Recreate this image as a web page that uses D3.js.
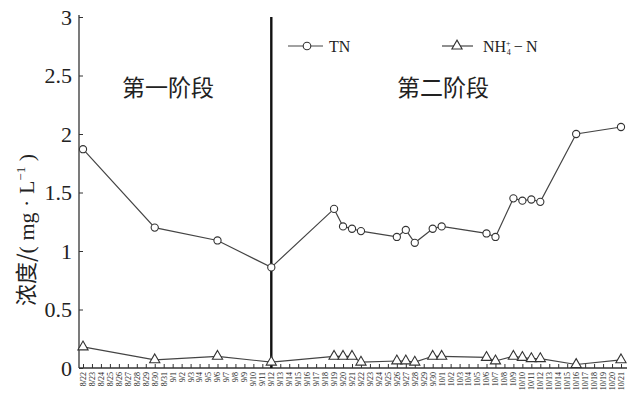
<!DOCTYPE html>
<html>
<head>
<meta charset="utf-8">
<script src="https://cdn.jsdelivr.net/npm/d3@7"></script>
<style>
  body { margin: 0; background: #fff; }
  svg text { font-family: "Liberation Serif", "DejaVu Serif", serif; fill: #222; }
</style>
</head>
<body>
<div id="chart"></div>
<script>
// all sampling days on the x axis
var days = ["8/22","8/23","8/24","8/25","8/26","8/27","8/28","8/29","8/30","8/31",
    "9/1","9/2","9/3","9/4","9/5","9/6","9/7","9/8","9/9","9/10","9/11","9/12",
    "9/13","9/14","9/15","9/16","9/17","9/18","9/19","9/20","9/21","9/22","9/23",
    "9/24","9/25","9/26","9/27","9/28","9/29","9/30","10/1","10/2","10/3","10/4",
    "10/5","10/6","10/7","10/8","10/9","10/10","10/11","10/12","10/13","10/14",
    "10/15","10/16","10/17","10/18","10/19","10/20","10/21"];

// days with measurements
var sampleDays = ["8/22","8/30","9/6","9/12","9/19","9/20","9/21","9/22","9/26","9/27",
    "9/28","9/30","10/1","10/6","10/7","10/9","10/10","10/11","10/12","10/16","10/21"];
var tnValues = [1.87,1.20,1.09,0.86,1.36,1.21,1.19,1.17,1.12,1.18,
    1.07,1.19,1.21,1.15,1.12,1.45,1.43,1.44,1.42,2.00,2.06];
var nh4Values = [0.18,0.07,0.10,0.05,0.10,0.10,0.10,0.05,0.06,0.06,
    0.05,0.10,0.10,0.09,0.06,0.10,0.09,0.08,0.08,0.03,0.07];

var yTicks = [0, 0.5, 1, 1.5, 2, 2.5, 3];
var stageSplit = "9/12";

var svgWidth = 627, svgHeight = 401;
var ink = "#333";

var svg = d3.select("#chart").append("svg")
    .attr("width", svgWidth)
    .attr("height", svgHeight);

var x = d3.scalePoint().domain(days).range([83, 621]);
var y = d3.scaleLinear().domain([0, 3]).range([368, 17]);

// y axis
var yAxis = d3.axisLeft(y)
    .tickValues(yTicks)
    .tickFormat(d3.format("~g"))
    .tickSizeInner(-4)
    .tickSizeOuter(0)
    .tickPadding(7);

var yG = svg.append("g")
    .attr("transform", "translate(79,0)")
    .call(yAxis);
yG.select(".domain").attr("stroke", ink).attr("stroke-width", 1.3)
    .attr("d", "M0,15V368");
yG.selectAll(".tick line").attr("stroke", ink);
yG.selectAll("text").attr("font-size", 22).attr("fill", "#222")
    .attr("font-family", "Liberation Serif, serif");

// x axis
var xAxis = d3.axisBottom(x)
    .tickSizeInner(-4)
    .tickSizeOuter(0)
    .tickPadding(0);

var xG = svg.append("g")
    .attr("transform", "translate(0,368)")
    .call(xAxis);
xG.select(".domain").attr("stroke", ink).attr("stroke-width", 1.3)
    .attr("d", "M79,0H627");
xG.selectAll(".tick line").attr("stroke", ink);
xG.selectAll("text")
    .attr("font-size", 8)
    .attr("font-family", "Liberation Serif, serif")
    .attr("fill", "#222")
    .attr("text-anchor", "end")
    .attr("transform", "rotate(-90)")
    .attr("x", -4)
    .attr("y", 0)
    .attr("dy", "0.3em");

// stage divider
svg.append("line")
    .attr("x1", x(stageSplit)).attr("x2", x(stageSplit))
    .attr("y1", 17).attr("y2", 368)
    .attr("stroke", "#111")
    .attr("stroke-width", 2.4);

var tnData = sampleDays.map((d, i) => ({ day: d, v: tnValues[i] }));
var nhData = sampleDays.map((d, i) => ({ day: d, v: nh4Values[i] }));

var line = d3.line().x(d => x(d.day)).y(d => y(d.v));

svg.append("path").datum(tnData)
    .attr("d", line).attr("fill", "none")
    .attr("stroke", "#444").attr("stroke-width", 1.2);

svg.append("path").datum(nhData)
    .attr("d", line).attr("fill", "none")
    .attr("stroke", "#444").attr("stroke-width", 1.2);

svg.selectAll(".tn").data(tnData).enter()
    .append("circle")
    .attr("class", "tn")
    .attr("cx", d => x(d.day))
    .attr("cy", d => y(d.v))
    .attr("r", 3.6)
    .attr("fill", "#fff")
    .attr("stroke", ink)
    .attr("stroke-width", 1.1);

var tri = d3.symbol().type(d3.symbolTriangle).size(45);
svg.selectAll(".nh").data(nhData).enter()
    .append("path")
    .attr("class", "nh")
    .attr("d", tri)
    .attr("transform", d => `translate(${x(d.day)},${y(d.v)})`)
    .attr("fill", "#fff")
    .attr("stroke", ink)
    .attr("stroke-width", 1.1);

// stage labels
svg.append("text")
    .attr("x", 168).attr("y", 96)
    .attr("text-anchor", "middle")
    .attr("font-size", 23)
    .style("font-family", "'Noto Sans CJK SC', sans-serif")
    .text("第一阶段");

svg.append("text")
    .attr("x", 443).attr("y", 96)
    .attr("text-anchor", "middle")
    .attr("font-size", 23)
    .style("font-family", "'Noto Sans CJK SC', sans-serif")
    .text("第二阶段");

// legend
var lg = svg.append("g");
lg.append("line").attr("x1", 288).attr("x2", 323).attr("y1", 46).attr("y2", 46)
    .attr("stroke", "#444").attr("stroke-width", 1.2);
lg.append("circle").attr("cx", 307).attr("cy", 46).attr("r", 3.8)
    .attr("fill", "#fff").attr("stroke", ink).attr("stroke-width", 1.1);
lg.append("text").attr("x", 329).attr("y", 51.5).attr("font-size", 16).text("TN");

lg.append("line").attr("x1", 442).attr("x2", 473).attr("y1", 46).attr("y2", 46)
    .attr("stroke", "#444").attr("stroke-width", 1.2);
lg.append("path").attr("d", tri).attr("transform", "translate(457,46)")
    .attr("fill", "#fff").attr("stroke", ink).attr("stroke-width", 1.1);
var nhText = lg.append("text").attr("x", 483).attr("y", 51.5).attr("font-size", 16);
nhText.append("tspan").text("NH");
nhText.append("tspan").attr("font-size", 8).attr("dy", -6).text("+");
nhText.append("tspan").attr("font-size", 8).attr("dx", -4).attr("dy", 9).text("4");
nhText.append("tspan").attr("dy", -3).text("\u2009\u2212\u2009N");

// y title
var yt = svg.append("text")
    .attr("transform", "translate(34,230) rotate(-90)")
    .attr("text-anchor", "middle")
    .attr("font-size", 22);
yt.append("tspan").style("font-family", "'Noto Sans CJK SC', sans-serif").text("浓度/");
yt.append("tspan").text("( mg · L");
yt.append("tspan").attr("font-size", 13).attr("dy", -9).text("−1");
yt.append("tspan").attr("dy", 9).text(" )");
</script>
</body>
</html>
